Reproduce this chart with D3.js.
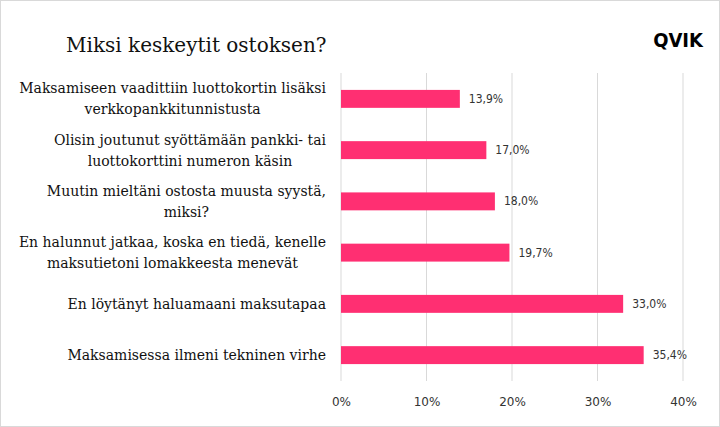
<!DOCTYPE html>
<html><head><meta charset="utf-8">
<script src="https://cdn.jsdelivr.net/npm/d3@7"></script>
<style>body{margin:0;background:#fff}svg{display:block}</style>
</head><body><svg id="c" width="720" height="427"></svg>
<script>
const categories = [
  ["Maksamiseen vaadittiin luottokortin lisäksi", "verkkopankkitunnistusta"],
  ["Olisin joutunut syöttämään pankki- tai", "luottokorttini numeron käsin"],
  ["Muutin mieltäni ostosta muusta syystä,", "miksi?"],
  ["En halunnut jatkaa, koska en tiedä, kenelle", "maksutietoni lomakkeesta menevät"],
  ["En löytänyt haluamaani maksutapaa"],
  ["Maksamisessa ilmeni tekninen virhe"]
];
const values = [13.9, 17.0, 18.0, 19.7, 33.0, 35.4];
const ticks = [0, 10, 20, 30, 40];

const svg = d3.select('#c');
svg.append('rect').attr('x', 0.5).attr('y', 0.5).attr('width', 719).attr('height', 426)
  .attr('fill', '#fff').attr('stroke', '#d9d9d9');

const x = d3.scaleLinear().domain([0, 40]).range([341, 683]);
const y = d3.scaleBand().domain(d3.range(categories.length)).range([73, 381]).paddingInner(0.65).paddingOuter(0.33);

svg.append('g').selectAll('line').data(ticks).join('line')
  .attr('x1', d => x(d)).attr('x2', d => x(d)).attr('y1', 73).attr('y2', 381)
  .attr('stroke', '#d9d9d9').attr('stroke-width', 1);

svg.append('g').selectAll('rect').data(values).join('rect')
  .attr('x', x(0)).attr('y', (d, i) => y(i)).attr('width', d => x(d) - x(0)).attr('height', y.bandwidth())
  .attr('fill', '#ff2f72');

svg.append('g').selectAll('text').data(values).join('text')
  .attr('x', d => x(d) + 9).attr('y', (d, i) => y(i) + y.bandwidth() / 2 + 4)
  .attr('font-family', 'DejaVu Sans Condensed').attr('font-size', 12).attr('fill', '#333')
  .text(d => d.toFixed(1).replace('.', ',') + '%');

// each label block is right-aligned to the axis, lines centred within the block
const lab = svg.append('g').selectAll('text').data(categories).join('text')
  .attr('text-anchor', 'middle').attr('font-family', 'DejaVu Serif').attr('font-size', 14).attr('fill', '#111');
lab.each(function(d, i) {
  const cy = y(i) + y.bandwidth() / 2;
  const t = d3.select(this);
  d.forEach((s, k) => {
    t.append('tspan').attr('y', cy + 5 + (k - (d.length - 1) / 2) * 21).text(s);
  });
  let w = 0;
  t.selectAll('tspan').each(function() { w = Math.max(w, this.getComputedTextLength()); });
  t.selectAll('tspan').attr('x', 326 - w / 2);
});

const axis = d3.axisBottom(x).tickValues(ticks).tickSize(0).tickFormat(d => d + '%');
svg.append('g').attr('transform', 'translate(0,394)').call(axis)
  .call(g => g.select('.domain').remove())
  .call(g => g.selectAll('text').attr('font-family', 'DejaVu Sans').attr('font-size', 12).attr('fill', '#333'));

svg.append('text').attr('x', 66).attr('y', 52).attr('font-family', 'DejaVu Serif')
  .attr('font-size', 20).attr('fill', '#111').text('Miksi keskeytit ostoksen?');
svg.append('text').attr('x', 703).attr('y', 47).attr('text-anchor', 'end').attr('font-family', 'DejaVu Sans Condensed')
  .attr('font-weight', 'bold').attr('font-size', 20).attr('fill', '#000').text('QVIK');
</script></body></html>
